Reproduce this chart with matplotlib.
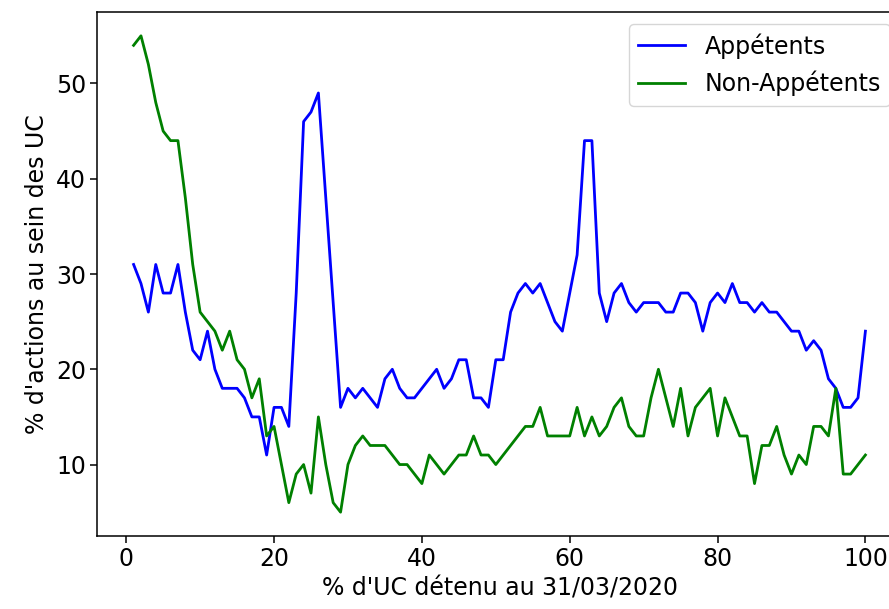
import numpy as np
import matplotlib
matplotlib.use("Agg")
import matplotlib.pyplot as plt

# % d'UC détenu (1..100)
pct_uc = list(range(1, 101))

appetents = [
    31, 29, 26, 31, 28, 28, 31, 26, 22, 21,
    24, 20, 18, 18, 18, 17, 15, 15, 11, 16,
    16, 14, 28, 46, 47, 49, 38, 27, 16, 18,
    17, 18, 17, 16, 19, 20, 18, 17, 17, 18,
    19, 20, 18, 19, 21, 21, 17, 17, 16, 21,
    21, 26, 28, 29, 28, 29, 27, 25, 24, 28,
    32, 44, 44, 28, 25, 28, 29, 27, 26, 27,
    27, 27, 26, 26, 28, 28, 27, 24, 27, 28,
    27, 29, 27, 27, 26, 27, 26, 26, 25, 24,
    24, 22, 23, 22, 19, 18, 16, 16, 17, 24,
]

non_appetents = [
    54, 55, 52, 48, 45, 44, 44, 38, 31, 26,
    25, 24, 22, 24, 21, 20, 17, 19, 13, 14,
    10, 6, 9, 10, 7, 15, 10, 6, 5, 10,
    12, 13, 12, 12, 12, 11, 10, 10, 9, 8,
    11, 10, 9, 10, 11, 11, 13, 11, 11, 10,
    11, 12, 13, 14, 14, 16, 13, 13, 13, 13,
    16, 13, 15, 13, 14, 16, 17, 14, 13, 13,
    17, 20, 17, 14, 18, 13, 16, 17, 18, 13,
    17, 15, 13, 13, 8, 12, 12, 14, 11, 9,
    11, 10, 14, 14, 13, 18, 9, 9, 10, 11,
]

plt.rcParams['font.family'] = ['DejaVu Sans']
plt.rcParams['font.size'] = 17

fig = plt.figure(figsize=(8.89, 6.09), dpi=100)
# l'axe dépasse légèrement à droite (image recadrée)
ax = fig.add_axes([97 / 889, 1 - 536 / 609, 805 / 889, 524 / 609])

ax.plot(pct_uc, appetents, color='#0000ff', lw=2.0, label='Appétents')
ax.plot(pct_uc, non_appetents, color='#008000', lw=2.0, label='Non-Appétents')

ax.set_xlabel("% d'UC détenu au 31/03/2020", labelpad=4)
ax.set_ylabel("% d'actions au sein des UC", labelpad=5)
ax.tick_params(length=5, width=1.1, pad=3)
for s in ax.spines.values():
    s.set_linewidth(1.1)

ax.legend(loc='upper right', handlelength=2.0, framealpha=0.8)

fig.savefig('out.png', dpi=100)
